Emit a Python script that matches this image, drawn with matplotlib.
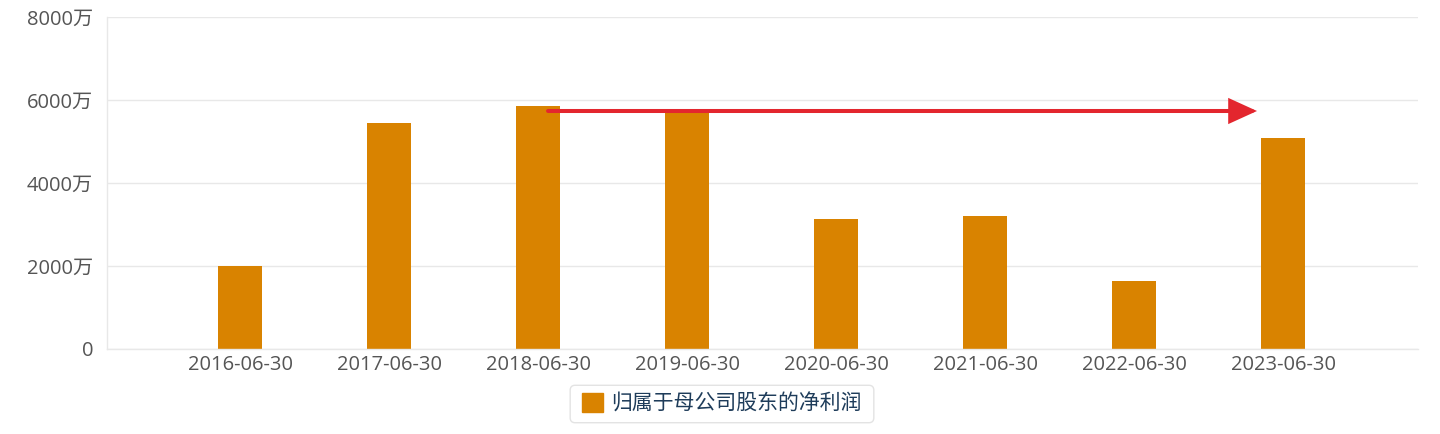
import numpy as np
import matplotlib.pyplot as plt
from matplotlib.patches import FancyArrowPatch, FancyBboxPatch
from matplotlib.transforms import IdentityTransform

plt.rcParams['font.family'] = ['Open Sans', 'Noto Sans CJK SC', 'DejaVu Sans']

# 数据 (单位: 万)
dates = ['2016-06-30', '2017-06-30', '2018-06-30', '2019-06-30',
         '2020-06-30', '2021-06-30', '2022-06-30', '2023-06-30']
profit = [2000, 5450, 5855, 5740, 3135, 3205, 1640, 5085]
series_name = '归属于母公司股东的净利润'
yticks = [0, 2000, 4000, 6000, 8000]

# 箭头: 从2018到2023, 高度大约在2019柱顶
arrow_from = '2018-06-30'
arrow_to = '2023-06-30'
arrow_y = 5735

bar_color = '#d98300'
grid_color = '#e8e8e8'
text_color = '#555555'

fig = plt.figure(figsize=(14.4, 4.34), dpi=100)
ax = fig.add_axes([107 / 1440, 85 / 434, 1311 / 1440, 332 / 434])

x = np.arange(len(dates))
ax.bar(x, profit, width=0.29, color=bar_color, zorder=2)

ax.set_xlim(-0.893, 7.906)
ax.set_ylim(0, 8000)
ax.set_yticks(yticks)
ax.set_yticklabels(['0' if v == 0 else f'{v}万' for v in yticks])
ax.set_xticks(x)
ax.set_xticklabels(dates)
ax.tick_params(axis='both', length=0, labelsize=14.5, colors=text_color)
ax.tick_params(axis='y', pad=10)
ax.tick_params(axis='x', pad=4)

ax.grid(axis='y', color=grid_color, linewidth=1, zorder=0)
for side in ['top', 'right']:
    ax.spines[side].set_visible(False)
for side in ['left', 'bottom']:
    ax.spines[side].set_color(grid_color)
    ax.spines[side].set_linewidth(1)

# 红色箭头
i0 = dates.index(arrow_from)
i1 = dates.index(arrow_to)
arrow = FancyArrowPatch((i0 + 10 / 149, arrow_y), (i1 - 26 / 149, arrow_y),
                        arrowstyle='-|>,head_length=15.8,head_width=7.2',
                        mutation_scale=1, color='#e3262e', linewidth=2.9,
                        shrinkA=0, shrinkB=0, capstyle='round',
                        joinstyle='miter', zorder=3)
ax.add_patch(arrow)

# 图例 (边框单独画, 左右留白比上下多)
leg = fig.legend([plt.Rectangle((0, 0), 1, 1, color=bar_color)], [series_name],
                 loc='center', bbox_to_anchor=(722 / 1440, 30 / 434),
                 frameon=False, fontsize=15,
                 handlelength=1.0, handleheight=1.0, handletextpad=0.4,
                 borderpad=0, borderaxespad=0)
for t in leg.get_texts():
    t.set_color('#1e3c5a')

fig.canvas.draw()
bb = leg.get_window_extent()
frame = FancyBboxPatch((bb.x0 - 12, bb.y0 - 8), bb.width + 24, bb.height + 16,
                       boxstyle='round,pad=0,rounding_size=5',
                       transform=IdentityTransform(), facecolor='white',
                       edgecolor='#e3e3e3', linewidth=1, zorder=0)
fig.patches.append(frame)

fig.savefig('out.png', dpi=100)
